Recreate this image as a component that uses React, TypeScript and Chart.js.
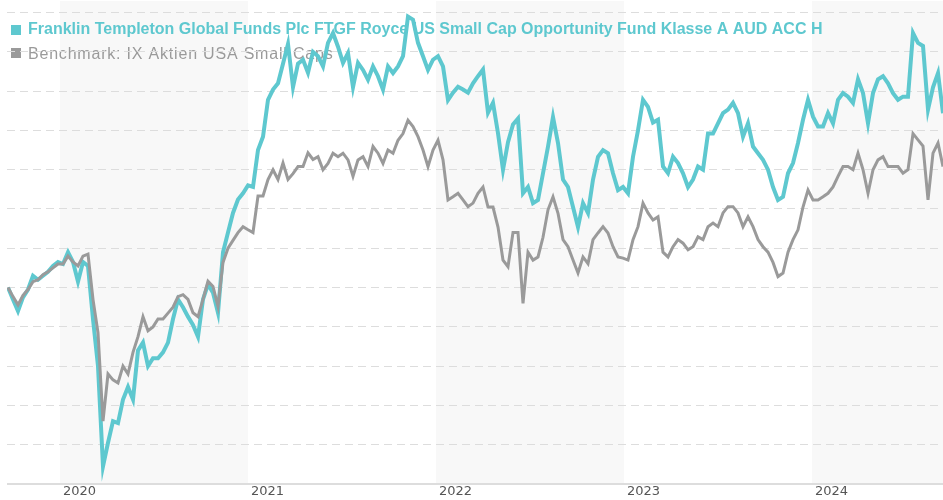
import React, { useEffect, useRef } from "react";
import { Chart, registerables } from "chart.js";

Chart.register(...registerables);

const FUND_LABEL = "Franklin Templeton Global Funds Plc FTGF Royce US Small Cap Opportunity Fund Klasse A AUD ACC H";
const BENCH_LABEL = "Benchmark: IX Aktien USA Small Caps";

const YEAR_TICKS = [2020, 2021, 2022, 2023, 2024];
const SHADED_YEARS = [2020, 2022, 2024];
const GRID_VALUES = [60, 70, 80, 90, 100, 110, 120, 130, 140, 150, 160, 170];

// sampling: first observation date (decimal year) and spacing (years)
const START_YEAR = 2019.7234;
const STEP_YEARS = 0.026596;

const fund = [
  100, 97, 94, 97.5, 99.5, 103, 102, 103, 104, 105.5, 106.5, 106, 109, 106.5, 101.5, 106.5, 105.5, 92, 80, 54.5,
  60.5, 66, 65.5, 71.5, 74.7, 71.5, 84, 86, 80, 82, 82, 83.5, 86, 92, 97, 95, 92.6, 90.5, 87.5, 97,
  100.8, 98.7, 93.6, 109, 114, 119, 122.4, 124, 126, 125.6, 135, 138.4, 147.8, 150.4, 152, 157, 162, 151, 157, 158,
  154.7, 160, 158.9, 156.3, 162.3, 164.8, 161.3, 157.2, 159.7, 151, 157.2, 155.4, 152.9, 156.3, 153.8, 150.4, 156.3, 154.6, 156.3, 158.9,
  169, 168.2, 162.3, 158.9, 155.4, 158, 158.9, 156.3, 147.7, 149.6, 151.1, 150.4, 149.6, 152, 153.8, 155.5, 144.5, 147, 139.3, 130,
  137, 141.5, 143, 124, 125.6, 121.5, 122.3, 129.1, 135.9, 143.4, 136.8, 127.5, 125.6, 120.5, 115.4, 121.5, 119, 127.5, 133.3, 135,
  134.2, 129.1, 124.8, 125.6, 124, 133.3, 140, 147.8, 146, 142, 142.7, 130.8, 129.1, 133.3, 131.7, 129.1, 125.6, 127.5, 130.8, 130,
  139.2, 139.2, 141.8, 144.4, 145.3, 147, 144.4, 138.4, 141.8, 135.9, 134.2, 132.5, 130, 125.6, 122.3, 123.1, 129.1, 131.7, 136.8, 142.7,
  147.8, 143.5, 141, 141, 144.4, 141.8, 147.8, 149.5, 148.6, 147, 153, 149.5, 141.8, 149.5, 153, 153.8, 152, 149.5, 147.8, 148.6,
  148.6, 164.8, 162.3, 161.5, 145.3, 151, 154.6, 144.4,
];

const benchmark = [
  100, 97.7, 95.6, 98, 99.5, 101.5, 102, 103.3, 104, 105, 106, 106, 108, 106.5, 105.5, 108, 108.5, 97, 88.5, 66,
  78, 76.5, 75.7, 80, 78, 83.5, 87.5, 92.6, 89, 90, 92, 92, 93.5, 95, 97.7, 98.2, 97, 93.6, 92.6, 97,
  101.6, 100.3, 95.2, 106.4, 110, 112, 114, 115.5, 114.7, 114, 123.3, 123.3, 127.5, 130, 127.5, 131.7, 127.5, 129, 130.8, 130.8,
  134.3, 132.6, 133.3, 130, 131.6, 134.2, 133.3, 134.2, 132.5, 128.3, 132.5, 133.3, 130.8, 135.9, 134.2, 131.6, 135, 134.2, 137.5, 139.2,
  142.6, 141, 138.4, 135, 130.8, 135, 137.5, 132.5, 122.3, 123.1, 124, 122.3, 120.6, 121.5, 124, 125.6, 120.5, 120.5, 115.4, 107,
  105.3, 114, 114, 96, 109, 107, 107.8, 112.8, 119.8, 123.1, 118.9, 112.2, 110.4, 107, 103.7, 107.8, 106.1, 112.2, 113.9, 115.5,
  113.9, 110.4, 107.8, 107.5, 107, 112.2, 115.5, 121.5, 119, 117.2, 118, 109, 107.8, 110.4, 112.2, 111.3, 109.6, 110.4, 112.9, 112.2,
  115.5, 116.4, 115.5, 119, 120.6, 120.6, 119, 115.5, 118, 115.5, 112.2, 110.4, 109, 106.4, 102.8, 103.7, 109, 112.2, 114.7, 120.5,
  124.8, 122.3, 122.3, 123.1, 124, 125.6, 128.3, 130.8, 130.8, 130, 134.2, 130, 124, 130, 132.5, 133.3, 130.8, 130.8, 130.8, 129.1,
  130, 139.2, 137.6, 136, 122.3, 134.2, 136.8, 130.8,
];

const TEAL = "#5ec8cf";
const GREY = "#9a9a9a";

const toPoints = (arr: number[]) => arr.map((v, i) => ({ x: START_YEAR + i * STEP_YEARS, y: v }));

const bgPlugin = {
  id: "bgBandsLegend",
  beforeDraw(chart: any) {
    const { ctx, chartArea, scales } = chart;
    const xs = scales.x;
    ctx.save();
    ctx.fillStyle = "#f8f8f8";
    SHADED_YEARS.forEach((yr) => {
      const a = Math.max(xs.getPixelForValue(yr), chartArea.left);
      const b = Math.min(xs.getPixelForValue(yr + 1), chartArea.right);
      if (b > a) ctx.fillRect(a, chartArea.top + 1, b - a, chartArea.bottom - chartArea.top - 1);
    });
    // legend
    ctx.textBaseline = "alphabetic";
    ctx.textAlign = "left";
    ctx.fillStyle = TEAL;
    ctx.fillRect(4, 25, 10, 10);
    ctx.font = 'bold 16px "Liberation Sans", Arial, sans-serif';
    ctx.fillText(FUND_LABEL, 21, 34);
    ctx.fillStyle = GREY;
    ctx.fillRect(4, 48, 10, 10);
    ctx.font = '16px "Liberation Sans", Arial, sans-serif';
    (ctx as any).letterSpacing = "0.8px";
    ctx.fillText(BENCH_LABEL, 21, 59);
    (ctx as any).letterSpacing = "0px";
    ctx.restore();
  },
};

export default function App() {
  const ref = useRef<HTMLCanvasElement>(null);
  useEffect(() => {
    if (!ref.current) return;
    const chart = new Chart(ref.current, {
      type: "line",
      data: {
        datasets: [
          {
            label: BENCH_LABEL,
            data: toPoints(benchmark),
            borderColor: GREY,
            borderWidth: 3,
            pointRadius: 0,
            tension: 0,
            order: 0,
          },
          {
            label: FUND_LABEL,
            data: toPoints(fund),
            borderColor: TEAL,
            borderWidth: 4,
            pointRadius: 0,
            tension: 0,
            order: 1,
          },
        ],
      },
      options: {
        responsive: false,
        animation: false,
        layout: { padding: 0 },
        plugins: { legend: { display: false }, tooltip: { enabled: false } },
        scales: {
          x: {
            type: "linear",
            bounds: "data",
            min: 2019.7181,
            max: 2024.6968,
            grid: { display: false, drawTicks: false },
            border: { display: true, color: "#dddddd", width: 2 },
            afterBuildTicks: (scale: any) => {
              scale.ticks = YEAR_TICKS.map((y) => ({ value: y + 0.016 }));
            },
            afterFit: (scale: any) => {
              scale.height = 16;
            },
            ticks: {
              align: "start",
              padding: 0,
              maxRotation: 0,
              autoSkip: false,
              color: "#555555",
              font: { family: '"DejaVu Sans", sans-serif', size: 13 },
              callback: (v: any) => String(Math.floor(Number(v))),
            },
          },
          y: {
            type: "linear",
            bounds: "data",
            min: 50,
            max: 173.2,
            afterBuildTicks: (scale: any) => {
              scale.ticks = GRID_VALUES.map((v) => ({ value: v }));
            },
            afterFit: (scale: any) => {
              scale.width = 0;
            },
            ticks: { display: false },
            grid: { color: "#dddddd", lineWidth: 1, drawTicks: false },
            border: { display: false, dash: [8, 5] },
          },
        },
      },
      plugins: [bgPlugin],
    });
    return () => chart.destroy();
  }, []);
  return (
    <div style={{ position: "absolute", left: 7, top: 0, width: 936, height: 500, background: "#fff" }}>
      <canvas ref={ref} width={936} height={500} />
    </div>
  );
}
